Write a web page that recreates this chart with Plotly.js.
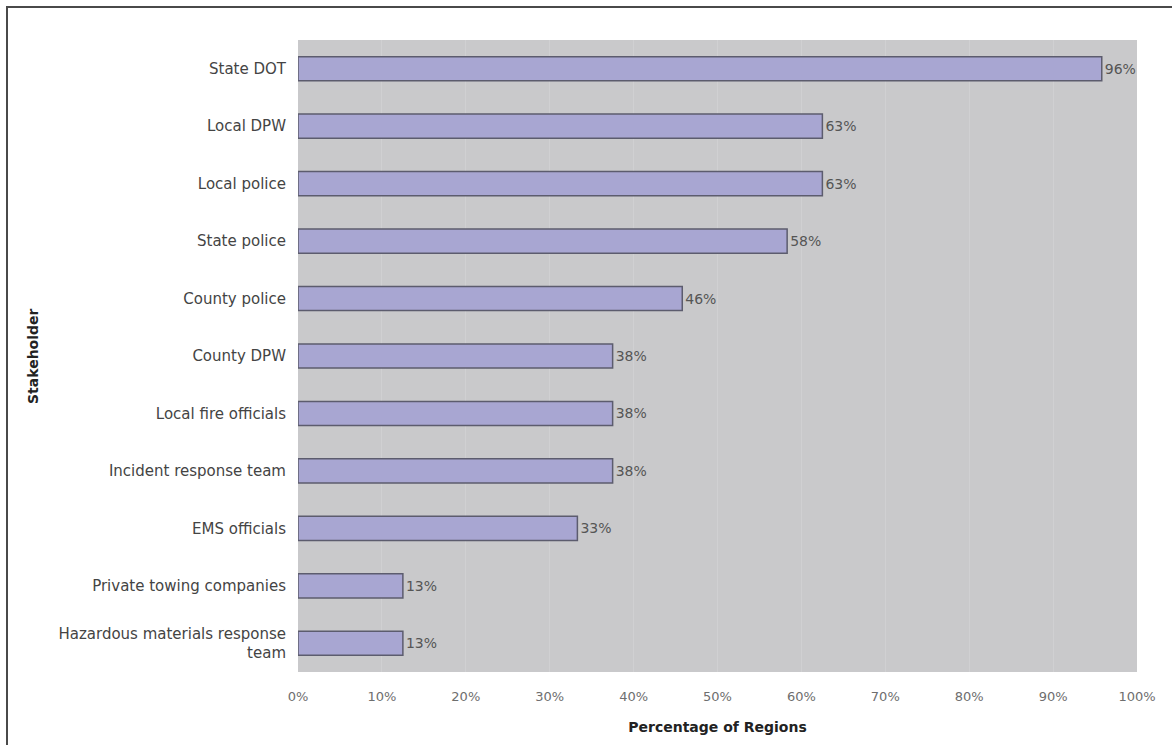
<!DOCTYPE html>
<html>
<head>
<meta charset="utf-8">
<script src="https://cdn.plot.ly/plotly-3.0.1.min.js"></script>
<style>
  html, body { margin: 0; padding: 0; background: #ffffff; }
  #frame { position: absolute; left: 6px; top: 6px; width: 1166px; height: 739px;
           border-left: 2px solid #4a4a4a; border-top: 2px solid #4a4a4a; box-sizing: border-box; pointer-events: none; z-index: 5; }
  #chart { position: absolute; left: 0; top: 0; width: 1172px; height: 745px; }
</style>
</head>
<body>
<div id="chart"></div>
<div id="frame"></div>
<script>
// Stakeholders (top to bottom as drawn)
var stakeholders = [
  "State DOT",
  "Local DPW",
  "Local police",
  "State police",
  "County police",
  "County DPW",
  "Local fire officials",
  "Incident response team",
  "EMS officials",
  "Private towing companies",
  "Hazardous materials response<br>team"
];
// Percentage of regions (24 regions)
var percentValues = [95.8, 62.5, 62.5, 58.3, 45.8, 37.5, 37.5, 37.5, 33.3, 12.5, 12.5];
var percentLabels = ["96%", "63%", "63%", "58%", "46%", "38%", "38%", "38%", "33%", "13%", "13%"];
var xTickVals = [0, 10, 20, 30, 40, 50, 60, 70, 80, 90, 100];
var xTickText = ["0%", "10%", "20%", "30%", "40%", "50%", "60%", "70%", "80%", "90%", "100%"];
var xTitle = "Percentage of Regions";
var yTitle = "Stakeholder";

var FONT = "DejaVu Sans, Arial, sans-serif";

var trace = {
  type: "bar",
  orientation: "h",
  y: stakeholders,
  x: percentValues,
  text: percentLabels,
  textposition: "outside",
  cliponaxis: false,
  textfont: { family: FONT, size: 14, color: "#555555" },
  marker: { color: "#a8a6d2", line: { color: "#5c5c6e", width: 1.5 } },
  width: 0.42,
  hoverinfo: "none"
};

var layout = {
  width: 1172,
  height: 745,
  margin: { l: 298, r: 35, t: 40, b: 73 },
  paper_bgcolor: "#ffffff",
  plot_bgcolor: "#c9c9cb",
  showlegend: false,
  font: { family: FONT, size: 14, color: "#444444" },
  xaxis: {
    range: [0, 100],
    tickvals: xTickVals,
    ticktext: xTickText,
    showgrid: true,
    gridcolor: "#d0d0d2",
    gridwidth: 1,
    zeroline: false,
    showline: false,
    ticks: "",
    ticklabelstandoff: 15,
    tickfont: { family: FONT, size: 13, color: "#6e6e6e" },
    title: { text: "<b>" + xTitle + "</b>", font: { family: FONT, size: 14, color: "#222222" }, standoff: 19 },
    fixedrange: true
  },
  yaxis: {
    type: "category",
    autorange: "reversed",
    showgrid: false,
    zeroline: false,
    showline: false,
    ticks: "",
    ticklabelstandoff: 11,
    tickfont: { family: FONT, size: 15, color: "#444444" },
    fixedrange: true
  },
  annotations: [{
    text: "<b>" + yTitle + "</b>",
    textangle: -90,
    xref: "paper", yref: "paper",
    x: (33 - 298) / 839, y: 0.5,
    xanchor: "center", yanchor: "middle",
    showarrow: false,
    font: { family: FONT, size: 14, color: "#222222" }
  }],
  bargap: 0.58
};

Plotly.newPlot("chart", [trace], layout, { displayModeBar: false, staticPlot: true });
</script>
</body>
</html>
